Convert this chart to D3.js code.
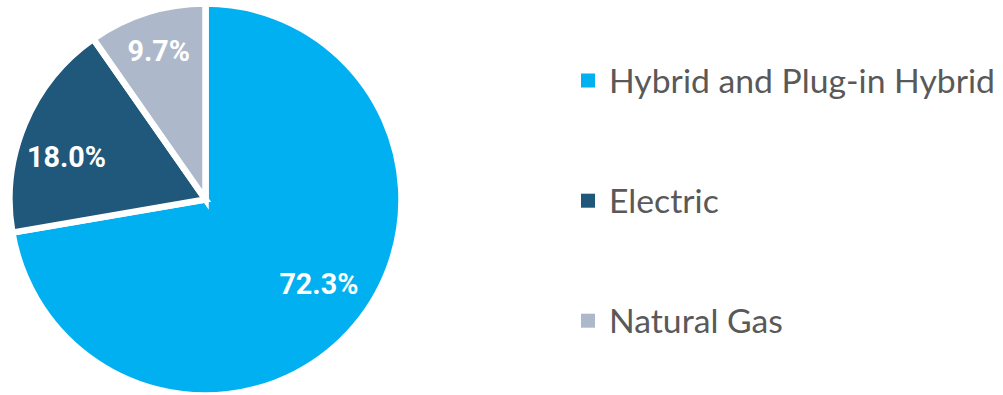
<!DOCTYPE html>
<html>
<head>
<meta charset="utf-8">
<script src="https://cdn.jsdelivr.net/npm/d3@7"></script>
<style>
  html, body { margin: 0; padding: 0; background: #ffffff; }
  svg { display: block; }
</style>
</head>
<body>
<svg id="chart" width="1003" height="395"></svg>
<script>
// Alternative-fuel vehicle share
const categories = ["Hybrid and Plug-in Hybrid", "Electric", "Natural Gas"];
const shares = [72.3, 18.0, 9.7];
const labels = ["72.3%", "18.0%", "9.7%"];
const colors = ["#00B0F0", "#1F587A", "#ADB9CA"];

const svg = d3.select("#chart");
const cx = 205.5, cy = 199.5, R = 196;

const data = categories.map((c, i) => ({ name: c, value: shares[i], label: labels[i], color: colors[i] }));

const pie = d3.pie().value(d => d.value).sort(null);
const arc = d3.arc().innerRadius(0).outerRadius(R);
const arcs = pie(data);

const g = svg.append("g").attr("transform", `translate(${cx},${cy})`);

g.selectAll("path.slice")
  .data(arcs)
  .join("path")
  .attr("class", "slice")
  .attr("d", arc)
  .attr("fill", d => d.data.color)
  .attr("stroke", "#ffffff")
  .attr("stroke-width", 6.5)
  .attr("stroke-linejoin", "miter");

// Label placement: distance from the centre (fraction of R) and a small angular nudge (degrees)
const labelLayout = [
  { dist: 0.722, nudge: -3.4 },
  { dist: 0.742, nudge: -5.5 },
  { dist: 0.796, nudge: 0 }
];

const labelFont = "Roboto, 'Open Sans', sans-serif";
const lbl = g.selectAll("text.lbl")
  .data(arcs)
  .join("text")
  .attr("class", "lbl")
  .attr("font-family", labelFont)
  .attr("font-weight", 700)
  .attr("fill", "#ffffff")
  .attr("text-anchor", "middle")
  .text(d => d.data.label);

// size labels so "72.3%" is about 79px wide
lbl.attr("font-size", 30);
const refW = lbl.nodes()[0].getComputedTextLength();
const labelSize = 30 * 79 / refW;
lbl.attr("font-size", labelSize);

lbl.each(function(d, i) {
  const lay = labelLayout[i];
  const mid = (d.startAngle + d.endAngle) / 2 + lay.nudge * Math.PI / 180;
  const k = R * lay.dist;
  const px = Math.sin(mid) * k, py = -Math.cos(mid) * k;
  const capH = labelSize * 0.711;
  d3.select(this).attr("x", px).attr("y", py + capH / 2);
});

// Legend
const legendFont = "Lato, 'Open Sans', sans-serif";
const legend = svg.append("g");
const rowY = [92.5, 212.7, 332.7];
const items = legend.selectAll("g.item")
  .data(data)
  .join("g")
  .attr("class", "item");

const legText = items.append("text")
  .attr("x", 609)
  .attr("y", (d, i) => rowY[i])
  .attr("font-family", legendFont)
  .attr("fill", "#595959")
  .attr("font-size", 30)
  .text(d => d.name);

const legW = legText.nodes()[0].getComputedTextLength();
const legSize = 30 * 386 / legW;
legText.attr("font-size", legSize);

items.append("rect")
  .attr("x", 581)
  .attr("y", (d, i) => rowY[i] - 19)
  .attr("width", 14)
  .attr("height", 14)
  .attr("fill", d => d.color);
</script>
</body>
</html>
